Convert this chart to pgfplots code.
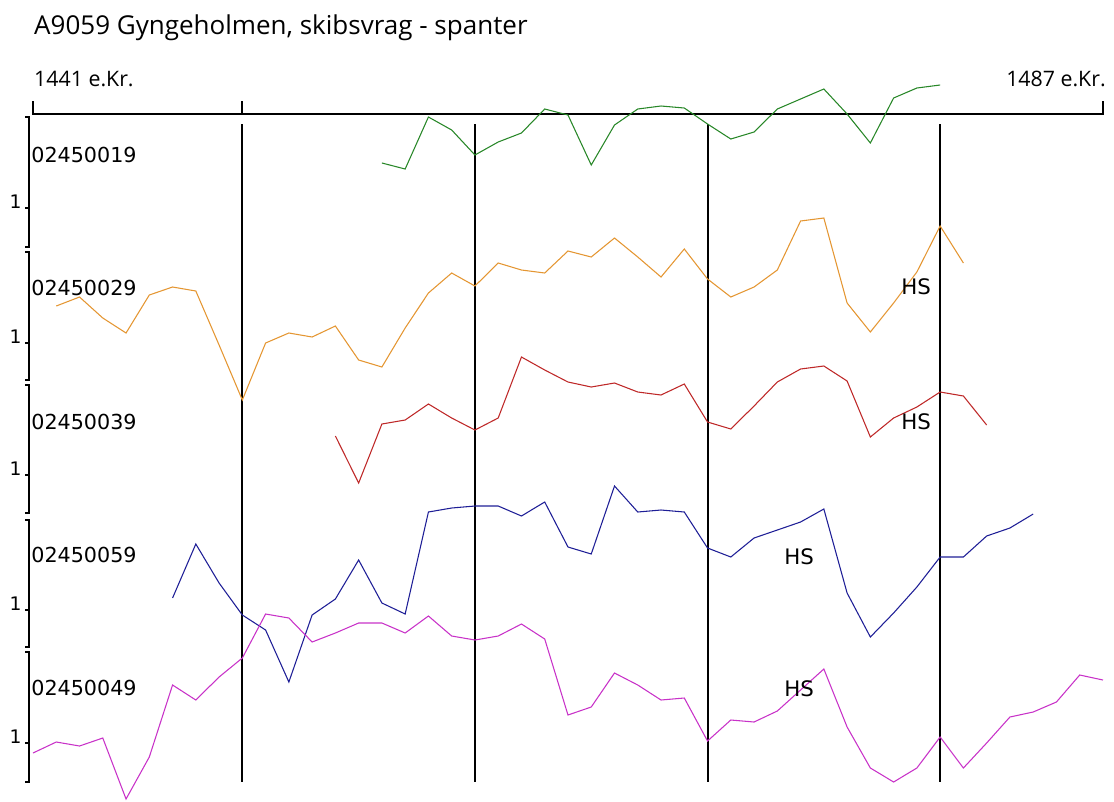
\documentclass[border=0pt]{standalone}
\usepackage{fontspec}
\setmainfont{DejaVu Sans}
\newfontfamily\titlefont{Open Sans}
\usepackage{pgfplots}
\pgfplotsset{compat=1.18}

\definecolor{sgreen}{RGB}{40,135,40}
\definecolor{sorange}{RGB}{228,150,50}
\definecolor{sred}{RGB}{190,40,40}
\definecolor{sblue}{RGB}{30,30,150}
\definecolor{smagenta}{RGB}{200,50,200}

% y values are read as picture rows (0 = top), x values are years
\pgfplotstableread{
year y
1456 163
1457 169
1458 117
1459 130
1460 155
1461 142
1462 133
1463 109
1464 115
1465 165
1466 125
1467 109
1468 106
1469 108
1470 124
1471 139
1472 132
1473 109
1474 99
1475 89
1476 114
1477 143
1478 98
1479 88
1480 85
}\sgreen

\pgfplotstableread{
year y
1442 306
1443 297
1444 318
1445 333
1446 295
1447 287
1448 291
1449 345
1450 400
1451 343
1452 333
1453 337
1454 326
1455 360
1456 367
1457 328
1458 293
1459 273
1460 286
1461 263
1462 270
1463 273
1464 251
1465 257
1466 238
1467 257
1468 277
1469 249
1470 279
1471 297
1472 287
1473 270
1474 221
1475 218
1476 303
1477 332
1478 303
1479 272
1480 226
1481 263
}\sorange

\pgfplotstableread{
year y
1454 436
1455 483
1456 424
1457 420
1458 404
1459 418
1460 430
1461 418
1462 357
1463 370
1464 382
1465 387
1466 383
1467 392
1468 395
1469 384
1470 422
1471 429
1472 406
1473 382
1474 369
1475 366
1476 381
1477 437
1478 418
1479 407
1480 392
1481 396
1482 425
}\sred

\pgfplotstableread{
year y
1447 598
1448 544
1449 583
1450 615
1451 630
1452 682
1453 615
1454 599
1455 560
1456 603
1457 614
1458 512
1459 508
1460 506
1461 506
1462 516
1463 502
1464 547
1465 554
1466 486
1467 512
1468 510
1469 512
1470 548
1471 557
1472 538
1473 530
1474 522
1475 509
1476 593
1477 637
1478 613
1479 587
1480 557
1481 557
1482 536
1483 528
1484 514
}\sblue

\pgfplotstableread{
year y
1441 753
1442 742
1443 746
1444 738
1445 799
1446 757
1447 685
1448 700
1449 677
1450 658
1451 614
1452 618
1453 642
1454 633
1455 623
1456 623
1457 633
1458 616
1459 636
1460 640
1461 636
1462 624
1463 639
1464 715
1465 707
1466 673
1467 685
1468 700
1469 698
1470 741
1471 720
1472 722
1473 711
1474 690
1475 669
1476 727
1477 768
1478 782
1479 768
1480 737
1481 768
1482 743
1483 717
1484 712
1485 702
1486 675
1487 680
}\smagenta

\begin{document}
\begin{tikzpicture}
\begin{axis}[
  width=835.5pt, height=600.75pt, scale only axis,
  hide axis, clip=false,
  xmin=1439.581, xmax=1487.475,
  ymin=0, ymax=801, y dir=reverse,
  every axis plot/.append style={line width=0.8pt, no markers},
]
% year lines
\draw[line width=1.5pt] (axis cs:1450,124) -- (axis cs:1450,782);
\draw[line width=1.5pt] (axis cs:1460,124) -- (axis cs:1460,782);
\draw[line width=1.5pt] (axis cs:1470,124) -- (axis cs:1470,782);
\draw[line width=1.5pt] (axis cs:1480,124) -- (axis cs:1480,782);
% time scale at the top
\draw[line width=1.3pt] (axis cs:1441,101) -- (axis cs:1441,114.3) -- (axis cs:1487,114.3) -- (axis cs:1487,101);
\draw[line width=1.3pt] (axis cs:1450,101) -- (axis cs:1450,114.3);

% brackets on the left
\draw[line width=1.1pt] (axis cs:1440.656,117) -- (axis cs:1440.828,117) -- (axis cs:1440.828,247) -- (axis cs:1440.656,247);
\draw[line width=1.1pt] (axis cs:1440.656,252) -- (axis cs:1440.828,252) -- (axis cs:1440.828,380) -- (axis cs:1440.656,380);
\draw[line width=1.1pt] (axis cs:1440.656,385) -- (axis cs:1440.828,385) -- (axis cs:1440.828,513) -- (axis cs:1440.656,513);
\draw[line width=1.1pt] (axis cs:1440.656,520) -- (axis cs:1440.828,520) -- (axis cs:1440.828,647) -- (axis cs:1440.656,647);
\draw[line width=1.1pt] (axis cs:1440.656,652) -- (axis cs:1440.828,652) -- (axis cs:1440.828,782) -- (axis cs:1440.656,782);
\draw[line width=1.1pt] (axis cs:1440.656,208) -- (axis cs:1440.828,208);
\draw[line width=1.1pt] (axis cs:1440.656,343) -- (axis cs:1440.828,343);
\draw[line width=1.1pt] (axis cs:1440.656,475) -- (axis cs:1440.828,475);
\draw[line width=1.1pt] (axis cs:1440.656,610) -- (axis cs:1440.828,610);
\draw[line width=1.1pt] (axis cs:1440.656,743) -- (axis cs:1440.828,743);

\addplot[sgreen] table[x=year, y=y] {\sgreen};
\addplot[sorange] table[x=year, y=y] {\sorange};
\addplot[sred] table[x=year, y=y] {\sred};
\addplot[sblue] table[x=year, y=y] {\sblue};
\addplot[smagenta] table[x=year, y=y] {\smagenta};

% texts
\node[anchor=base west, inner sep=0pt, font=\titlefont\fontsize{19.5}{19.5}\selectfont] at (axis cs:1441.04,34) {A9059 Gyngeholmen, skibsvrag - spanter};
\node[anchor=base west, inner sep=0pt, font=\titlefont\fontsize{16}{16}\selectfont] at (axis cs:1441.04,86) {1441 e.Kr.};
\node[anchor=base east, inner sep=0pt, font=\titlefont\fontsize{16}{16}\selectfont] at (axis cs:1487.13,86) {1487 e.Kr.};

\node[anchor=west, inner sep=0pt, font=\fontsize{15.5}{15.5}\selectfont] at (axis cs:1440.92,154.5) {02450019};
\node[anchor=west, inner sep=0pt, font=\fontsize{15.5}{15.5}\selectfont] at (axis cs:1440.92,288) {02450029};
\node[anchor=west, inner sep=0pt, font=\fontsize{15.5}{15.5}\selectfont] at (axis cs:1440.92,422) {02450039};
\node[anchor=west, inner sep=0pt, font=\fontsize{15.5}{15.5}\selectfont] at (axis cs:1440.92,555) {02450059};
\node[anchor=west, inner sep=0pt, font=\fontsize{15.5}{15.5}\selectfont] at (axis cs:1440.92,688) {02450049};

\node[anchor=south east, inner sep=0pt, font=\fontsize{14}{14}\selectfont] at (axis cs:1440.52,208.5) {1};
\node[anchor=south east, inner sep=0pt, font=\fontsize{14}{14}\selectfont] at (axis cs:1440.52,343.5) {1};
\node[anchor=south east, inner sep=0pt, font=\fontsize{14}{14}\selectfont] at (axis cs:1440.52,475.5) {1};
\node[anchor=south east, inner sep=0pt, font=\fontsize{14}{14}\selectfont] at (axis cs:1440.52,610.5) {1};
\node[anchor=south east, inner sep=0pt, font=\fontsize{14}{14}\selectfont] at (axis cs:1440.52,743.5) {1};

\node[anchor=west, inner sep=0pt, font=\fontsize{16}{16}\selectfont] at (axis cs:1478.32,287) {HS};
\node[anchor=west, inner sep=0pt, font=\fontsize{16}{16}\selectfont] at (axis cs:1478.32,422) {HS};
\node[anchor=west, inner sep=0pt, font=\fontsize{16}{16}\selectfont] at (axis cs:1473.29,557) {HS};
\node[anchor=west, inner sep=0pt, font=\fontsize{16}{16}\selectfont] at (axis cs:1473.29,689) {HS};
\end{axis}
\pgfresetboundingbox
\useasboundingbox (0,0) rectangle (835.5pt,600.75pt);
\end{tikzpicture}
\end{document}
